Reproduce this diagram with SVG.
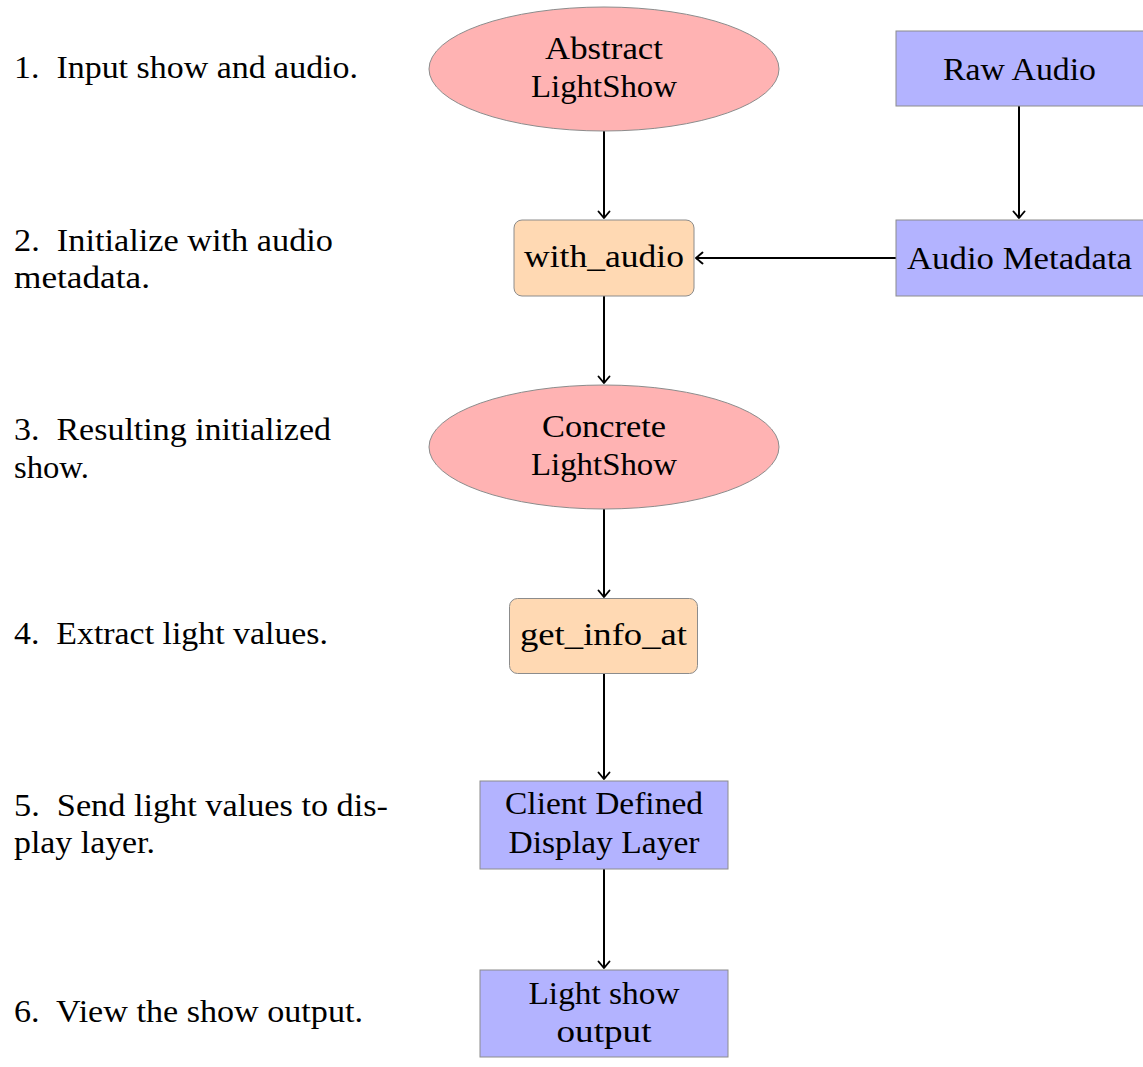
<svg xmlns="http://www.w3.org/2000/svg" width="1143" height="1067" viewBox="0 0 1143 1067">
<style>
text { font-family: "Liberation Serif", "DejaVu Serif", serif; font-size: 31px; fill: #000; }
.c { text-anchor: middle; }
.red { fill: #ffb3b3; stroke: #8c8c8c; stroke-width: 1; }
.org { fill: #ffd9b3; stroke: #8c8c8c; stroke-width: 1; }
.blu { fill: #b3b3ff; stroke: #8c8c8c; stroke-width: 1; }
.edge { stroke: #000; stroke-width: 2; fill: none; marker-end: url(#arr); }
</style>
<defs>
<marker id="arr" markerUnits="userSpaceOnUse" markerWidth="16" markerHeight="16" refX="0" refY="0" viewBox="-9 -8 11 16" orient="auto" overflow="visible">
<path d="M -6.5,-5.5 Q -1.8,-1.5 0,0 Q -1.8,1.5 -6.5,5.5" fill="none" stroke="#000" stroke-width="1.9" stroke-linecap="round" stroke-linejoin="round"/>
</marker>
</defs>
<g id="steps">
<text x="14" y="78" textLength="344" lengthAdjust="spacingAndGlyphs">1.&#160; Input show and audio.</text>
<text x="14" y="251" textLength="319" lengthAdjust="spacingAndGlyphs">2.&#160; Initialize with audio</text>
<text x="14" y="288" textLength="136" lengthAdjust="spacingAndGlyphs">metadata.</text>
<text x="14" y="440" textLength="317" lengthAdjust="spacingAndGlyphs">3.&#160; Resulting initialized</text>
<text x="14" y="478" textLength="75" lengthAdjust="spacingAndGlyphs">show.</text>
<text x="14" y="644" textLength="314" lengthAdjust="spacingAndGlyphs">4.&#160; Extract light values.</text>
<text x="14" y="816" textLength="374" lengthAdjust="spacingAndGlyphs">5.&#160; Send light values to dis-</text>
<text x="14" y="853" textLength="141" lengthAdjust="spacingAndGlyphs">play layer.</text>
<text x="14" y="1022" textLength="349" lengthAdjust="spacingAndGlyphs">6.&#160; View the show output.</text>
</g>
<g id="connectors">
<line class="edge" x1="604" y1="131" x2="604" y2="218"/>
<line class="edge" x1="1019" y1="106" x2="1019" y2="218"/>
<line class="edge" x1="896" y1="258" x2="696" y2="258"/>
<line class="edge" x1="604" y1="296" x2="604" y2="383"/>
<line class="edge" x1="604" y1="509" x2="604" y2="597"/>
<line class="edge" x1="604" y1="674" x2="604" y2="779"/>
<line class="edge" x1="604" y1="869" x2="604" y2="968"/>
</g>
<g id="abstract-lightshow">
<ellipse class="red" cx="604" cy="69" rx="175" ry="62"/>
<text class="c" x="604" y="59" textLength="118" lengthAdjust="spacingAndGlyphs">Abstract</text>
<text class="c" x="604" y="97" textLength="146" lengthAdjust="spacingAndGlyphs">LightShow</text>
</g>
<g id="raw-audio">
<rect class="blu" x="896" y="31" width="248" height="75"/>
<text class="c" x="1019.5" y="80" textLength="153" lengthAdjust="spacingAndGlyphs">Raw Audio</text>
</g>
<g id="with-audio">
<rect class="org" x="514" y="220" width="180" height="76" rx="8" ry="8"/>
<text class="c" x="604" y="267" textLength="160" lengthAdjust="spacingAndGlyphs">with_audio</text>
</g>
<g id="audio-metadata">
<rect class="blu" x="896" y="220" width="248" height="76"/>
<text class="c" x="1019.5" y="269" textLength="225" lengthAdjust="spacingAndGlyphs">Audio Metadata</text>
</g>
<g id="concrete-lightshow">
<ellipse class="red" cx="604" cy="447" rx="175" ry="62"/>
<text class="c" x="604" y="437" textLength="124" lengthAdjust="spacingAndGlyphs">Concrete</text>
<text class="c" x="604" y="475" textLength="146" lengthAdjust="spacingAndGlyphs">LightShow</text>
</g>
<g id="get-info-at">
<rect class="org" x="509.5" y="598.5" width="188" height="75" rx="8" ry="8"/>
<text class="c" x="603.5" y="645" textLength="167" lengthAdjust="spacingAndGlyphs">get_info_at</text>
</g>
<g id="display-layer">
<rect class="blu" x="480" y="781" width="248" height="88"/>
<text class="c" x="604" y="814" textLength="198" lengthAdjust="spacingAndGlyphs">Client Defined</text>
<text class="c" x="604" y="853" textLength="191" lengthAdjust="spacingAndGlyphs">Display Layer</text>
</g>
<g id="light-show-output">
<rect class="blu" x="480" y="970" width="248" height="87"/>
<text class="c" x="604" y="1004" textLength="151" lengthAdjust="spacingAndGlyphs">Light show</text>
<text class="c" x="604" y="1042" textLength="95" lengthAdjust="spacingAndGlyphs">output</text>
</g>
</svg>
